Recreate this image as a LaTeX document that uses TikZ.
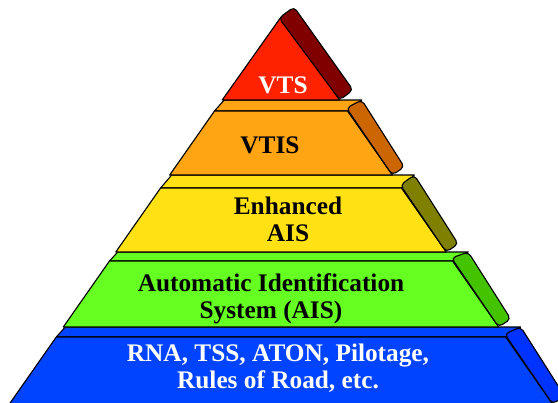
\documentclass[tikz,border=0pt]{standalone}
\usepackage{fontspec}
\setmainfont{Liberation Serif}
\usetikzlibrary{calc}

\definecolor{redface}{RGB}{255,34,0}
\definecolor{redbar}{RGB}{128,0,0}
\definecolor{orangeface}{RGB}{255,165,20}
\definecolor{orangebar}{RGB}{204,102,0}
\definecolor{yellowface}{RGB}{255,225,20}
\definecolor{yellowbar}{RGB}{128,128,0}
\definecolor{greenface}{RGB}{102,255,34}
\definecolor{greenbar}{RGB}{68,196,0}
\definecolor{blueface}{RGB}{0,68,255}
\definecolor{bluebar}{RGB}{0,51,255}

\begin{document}
\begin{tikzpicture}[x=0.025cm,y=-0.025cm,
  font=\fontsize{18}{19}\selectfont\bfseries,
  declare function={xl(\y)=281-0.7*(\y-16); xr(\y)=281+0.7*(\y-16);},
  face/.style={draw=black,line width=0.8pt,line join=round},
  bar/.style={draw=black,line width=0.8pt,rounded corners=3pt}]
  \useasboundingbox (0,0) rectangle (558,402);
  \clip (0,0) rectangle (558,402);
  % Layers, bottom first: strip top / front top / front bottom / colours
  \foreach \ys/\yf/\yb/\fc/\bc in {327/337/404/blueface/bluebar,
      252/261/327/greenface/greenbar, 175/188/252/yellowface/yellowbar,
      100/111/175/orangeface/orangebar} {
    \draw[face,fill=\fc] ({xl(\ys)+2},\ys) -- ({xr(\ys)+22},\ys) -- ({xr(\yf)},\yf) -- ({xl(\yf)},\yf) -- cycle;
    \draw[face,fill=\fc] ({xl(\yf)},\yf) -- ({xr(\yf)},\yf) -- ({xr(\yb)},\yb) -- ({xl(\yb)},\yb) -- cycle;
    \draw[bar,fill=\bc] ({xr(\yf)-1},\yf-3) -- ({xr(\yb)},\yb) -- ({xr(\yb)+12},\yb-8) -- ({xr(\ys)+22},\ys) -- cycle;
  }
  % Top: triangle
  \draw[face,fill=redface] ({xl(100)},100) -- (281,17) -- ({xr(100)},100) -- cycle;
  \draw[bar,fill=redbar] (279,18) -- ({xr(100)},100) -- (353,90) -- (294,7) -- cycle;
  % Labels
  \node[text=white] (vts) at (283,85) {VTS};
  \node (vtis) at (270,145) {VTIS};
  \node[align=center] (eais) at (288,219) {Enhanced\\AIS};
  \node[align=center] (ais) at (271,299) {Automatic Identification\\System (AIS)};
  \node[align=center,text=white] (rna) at (278,368) {RNA, TSS, ATON, Pilotage,\\Rules of Road, etc.};
\end{tikzpicture}
\end{document}
